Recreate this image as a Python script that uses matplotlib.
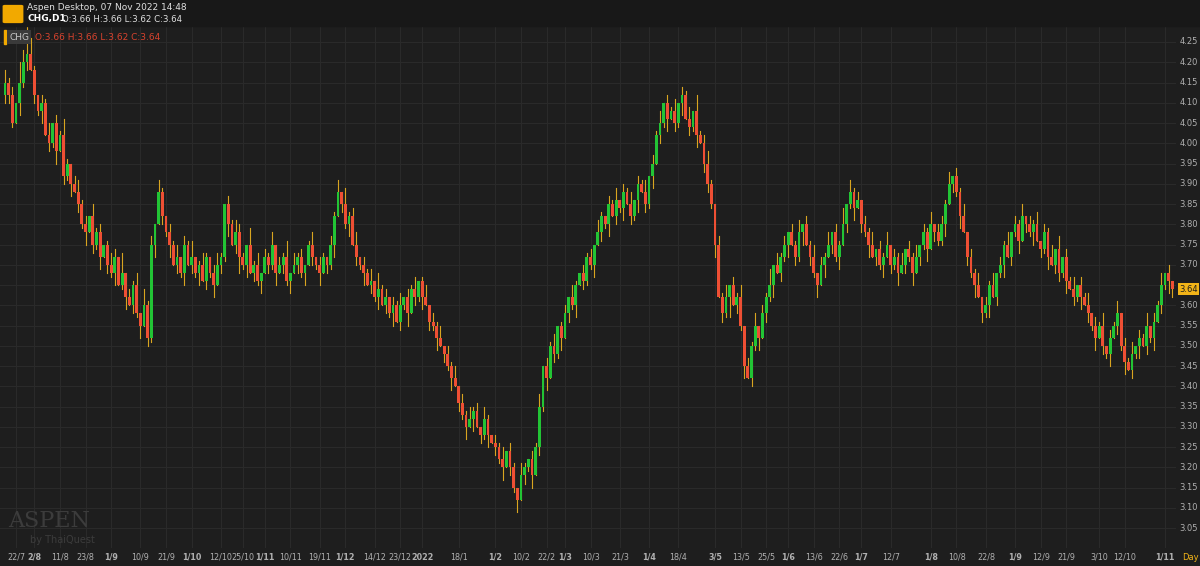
import matplotlib
matplotlib.use("Agg")
import matplotlib.pyplot as plt
from matplotlib.patches import Rectangle, FancyBboxPatch

# closing prices per daily candle (CHG, Jul 2021 - Nov 2022)
closes = [
	4.15, 4.12, 4.05, 4.10, 4.15, 4.20, 4.22, 4.18, 4.12, 4.08,
	4.10, 4.02, 4.00, 4.05, 3.98, 4.02, 3.92, 3.95, 3.90, 3.88,
	3.85, 3.80, 3.78, 3.82, 3.75, 3.78, 3.72, 3.75, 3.70, 3.68,
	3.72, 3.65, 3.68, 3.62, 3.60, 3.65, 3.58, 3.55, 3.60, 3.52,
	3.75, 3.80, 3.88, 3.82, 3.78, 3.75, 3.70, 3.72, 3.68, 3.75,
	3.70, 3.72, 3.68, 3.70, 3.66, 3.72, 3.68, 3.65, 3.70, 3.72,
	3.85, 3.80, 3.75, 3.78, 3.72, 3.70, 3.75, 3.68, 3.70, 3.66,
	3.68, 3.72, 3.70, 3.75, 3.68, 3.70, 3.72, 3.66, 3.68, 3.70,
	3.72, 3.68, 3.70, 3.75, 3.72, 3.70, 3.68, 3.72, 3.70, 3.75,
	3.82, 3.88, 3.85, 3.80, 3.82, 3.75, 3.72, 3.70, 3.68, 3.65,
	3.66, 3.62, 3.64, 3.60, 3.62, 3.58, 3.60, 3.56, 3.60, 3.62,
	3.58, 3.64, 3.62, 3.66, 3.62, 3.60, 3.56, 3.55, 3.52, 3.50,
	3.48, 3.45, 3.42, 3.40, 3.36, 3.33, 3.30, 3.32, 3.34, 3.30,
	3.28, 3.32, 3.28, 3.26, 3.25, 3.22, 3.20, 3.24, 3.20, 3.15,
	3.12, 3.18,
	3.20, 3.22, 3.18, 3.25, 3.35, 3.45, 3.42, 3.50, 3.48, 3.55,
	3.52, 3.58, 3.62, 3.60, 3.65, 3.68, 3.66, 3.72, 3.70, 3.75,
	3.78, 3.82, 3.80, 3.85, 3.82, 3.86, 3.84, 3.88, 3.85, 3.82,
	3.86, 3.90, 3.88, 3.85, 3.92, 3.95, 4.02, 4.05, 4.10, 4.06,
	4.08, 4.05, 4.10, 4.12, 4.06, 4.04, 4.08, 4.02, 4.00, 3.95,
	3.90, 3.85, 3.75,
	3.62, 3.58, 3.62, 3.65, 3.60, 3.62, 3.55, 3.45, 3.42, 3.50,
	3.55, 3.52, 3.58, 3.62, 3.65, 3.70, 3.68, 3.72, 3.75, 3.78,
	3.75, 3.72, 3.78, 3.80, 3.75, 3.72, 3.68, 3.65, 3.70, 3.72,
	3.75, 3.78, 3.72, 3.75, 3.80, 3.85, 3.88, 3.84, 3.86, 3.80,
	3.78, 3.75, 3.72, 3.74, 3.70, 3.72, 3.75, 3.70, 3.72, 3.68,
	3.70, 3.74, 3.72, 3.68, 3.72, 3.75, 3.78, 3.74, 3.80, 3.78,
	3.76, 3.80, 3.85, 3.90, 3.92, 3.88, 3.82, 3.78,
	3.72, 3.68, 3.65, 3.62, 3.58, 3.60, 3.65, 3.62, 3.68, 3.70,
	3.75, 3.72, 3.78, 3.80, 3.76, 3.82, 3.80, 3.78, 3.80, 3.76,
	3.74, 3.78, 3.72, 3.70, 3.74, 3.68, 3.72, 3.66, 3.64, 3.62,
	3.65, 3.62, 3.60, 3.58, 3.55, 3.52, 3.55, 3.50, 3.48, 3.52,
	3.55, 3.58, 3.50, 3.46, 3.44, 3.48, 3.50, 3.52, 3.50, 3.55,
	3.52, 3.56, 3.60, 3.65, 3.68, 3.66, 3.64,
]
first_open = 4.12

# wick lengths above / below the body, in satang (0.01)
upper_wicks = (
	"31205384102130214102312031201320"
	"50213041203102130214013102310213"
	"21041302130214031201302102130412"
	"30213041202130213013021302130213"
	"12031021302103102130213012031021"
	"20310213021302130213021302130412"
	"31021302130213021403120213021302"
	"13021403120213021302130213021302"
	"21302130213021302130213021302130"
	"30213021302130213021302130213020"
)
lower_wicks = (
	"22103120213021302130213021302130"
	"13021302130213021302130213021302"
	"41302130213021302130213021302130"
	"21302130213021302130213021302130"
	"30213021302130213021302130213021"
	"13021302130213021302130213021302"
	"21302150213021302130213021302130"
	"30213021302130213021302130213021"
	"13021302130213021302130213021302"
	"21302130213021302130213021302132"
)

tick_labels = ["22/7", "2/8", "11/8", "23/8", "1/9", "10/9", "21/9", "1/10", "12/10", "25/10",
	"1/11", "10/11", "19/11", "1/12", "14/12", "23/12", "2022", "18/1", "1/2", "10/2",
	"22/2", "1/3", "10/3", "21/3", "1/4", "18/4", "3/5", "13/5", "25/5", "1/6",
	"13/6", "22/6", "1/7", "12/7", "1/8", "10/8", "22/8", "1/9", "12/9", "21/9",
	"3/10", "12/10", "1/11"]
tick_index = [3, 8, 15, 22, 29, 37, 44, 51, 59, 65,
	71, 78, 86, 93, 101, 108, 114, 124, 134, 141,
	148, 153, 160, 168, 176, 184, 194, 201, 208, 214,
	221, 228, 234, 242, 253, 260, 268, 276, 283, 290,
	299, 306, 317]
bold_labels = ["2/8", "1/9", "1/10", "1/11", "1/12", "2022", "1/2", "1/3", "1/4", "3/5", "1/6", "1/7", "1/8"]
yticks = [round(3.05 + 0.05 * k, 2) for k in range(25)]

UP = "#22c435"
DOWN = "#ee4f34"
WICK = "#d9a520"
BG = "#1e1e1e"
GRID = "#2a2a2a"

fig = plt.figure(figsize=(12, 5.66), dpi=100, facecolor=BG)
W, H = 1200, 566
ax = fig.add_axes([0, (H - 548) / H, 1176 / W, (548 - 27) / H])
ax.set_facecolor(BG)

opens = [first_open] + closes[:-1]
for i, (o, c) in enumerate(zip(opens, closes)):
	hi = max(o, c) + int(upper_wicks[i]) / 100
	lo = min(o, c) - int(lower_wicks[i]) / 100
	ax.plot([i, i], [lo, hi], color=WICK, lw=0.8, zorder=2)
	if abs(c - o) < 1e-9:
		ax.plot([i - 0.35, i + 0.35], [c, c], color=WICK, lw=1, zorder=3)
		continue
	col = UP if c > o else DOWN
	ax.add_patch(Rectangle((i - 0.38, min(o, c)), 0.76, abs(c - o), color=col, lw=0, zorder=3))

ax.set_xlim(-1.37, 320.0)
ax.set_ylim(3.001, 4.287)
for t in tick_index:
	ax.axvline(t, color=GRID, lw=0.8, zorder=0)
for y in yticks:
	ax.axhline(y, color=GRID, lw=0.8, zorder=0)
ax.set_xticks([])
ax.set_yticks([])
for s in ax.spines.values():
	s.set_visible(False)

# right price axis
for y in yticks:
	if abs(y - 3.65) < 1e-6:
		continue
	ax.text(1.003, (y - 3.001) / (4.287 - 3.001), f"{y:.2f}", transform=ax.transAxes,
		color="#b0b0b0", fontsize=6, va="center", ha="left")
ax.text(1.003, (3.64 - 3.001) / (4.287 - 3.001), "3.64", transform=ax.transAxes,
	color="#1e1e1e", fontsize=6, va="center", ha="left",
	bbox=dict(boxstyle="square,pad=0.15", fc="#f2b418", ec="none"))

# bottom date labels
for t, lab in zip(tick_index, tick_labels):
	fig.text((5 + t * 3.66) / W, 1 - 557 / H, lab, color="#b0b0b0", fontsize=5.8,
		ha="center", va="center", fontweight="bold" if lab in bold_labels else "normal")
fig.text(1190 / W, 1 - 557 / H, "Day", color="#f2b418", fontsize=6, ha="center", va="center")

# header
fig.patches.append(Rectangle((0, 1 - 26 / H), 1, 26 / H, transform=fig.transFigure,
	color="#181818", zorder=0))
fig.patches.append(FancyBboxPatch((5 / W, 1 - 22 / H), 16 / W, 16 / H, transform=fig.transFigure,
	boxstyle="round,pad=0.002", fc="#f2a900", ec="none"))
fig.text(27 / W, 1 - 8 / H, "Aspen Desktop, 07 Nov 2022 14:48", color="#e0e0e0", fontsize=6.5, va="center")
fig.text(27 / W, 1 - 19 / H, "CHG,D1", color="#ffffff", fontsize=6.5, fontweight="bold", va="center")
fig.text(62 / W, 1 - 19 / H, "O:3.66 H:3.66 L:3.62 C:3.64", color="#e0e0e0", fontsize=6.2, va="center")
fig.patches.append(Rectangle((4 / W, 1 - 44 / H), 1.5 / W, 14 / H, transform=fig.transFigure, color="#f2a900"))
fig.text(9 / W, 1 - 37 / H, "CHG", color="#c8c8c8", fontsize=6.5, va="center",
	bbox=dict(boxstyle="square,pad=0.25", fc="#3a3a3a", ec="none"))
fig.text(35 / W, 1 - 37 / H, "O:3.66 H:3.66 L:3.62 C:3.64", color="#d9432e", fontsize=6.5, va="center")

fig.text(8 / W, 1 - 521 / H, "ASPEN", color="#3c3c3c", fontsize=16, family="DejaVu Serif", va="center")
fig.text(30 / W, 1 - 540 / H, "by ThaiQuest", color="#3c3c3c", fontsize=7, va="center")

fig.savefig("out.png", dpi=100, facecolor=BG)
